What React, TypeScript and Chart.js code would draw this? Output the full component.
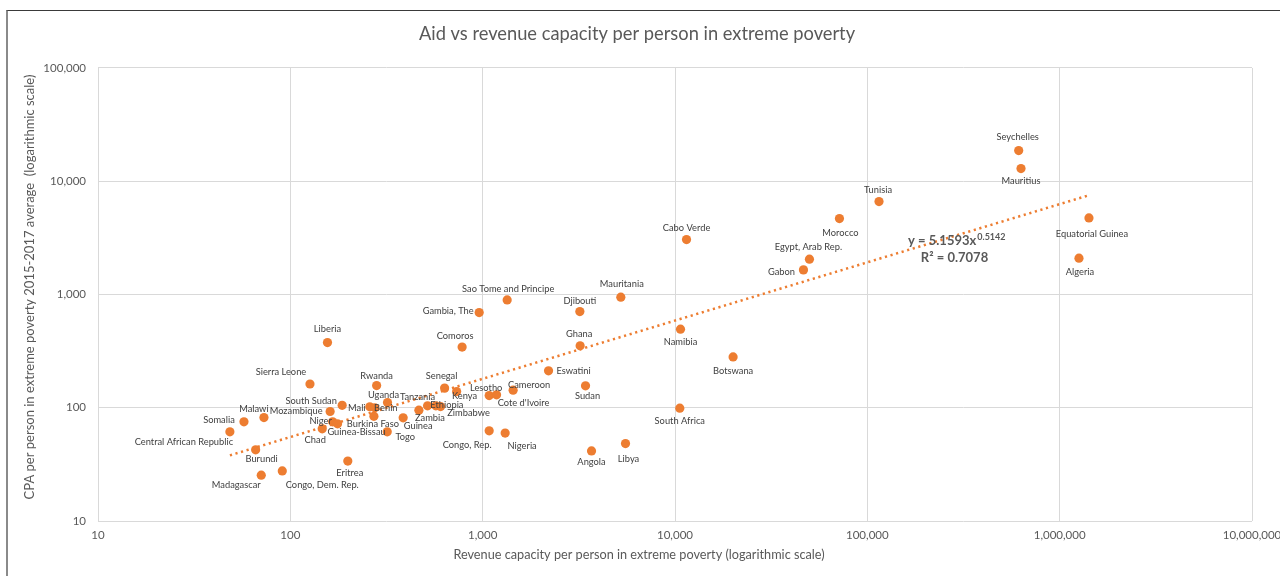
import React, { useEffect, useRef } from "react";
import { Chart, registerables } from "chart.js";

Chart.register(...registerables);

const FONT = "Lato, 'Open Sans', sans-serif";

const chartTitle = "Aid vs revenue capacity per person in extreme poverty";
const xAxisTitle = "Revenue capacity per person in extreme poverty (logarithmic scale)";
const yAxisTitle = "CPA per person in extreme poverty 2015-2017 average  (logarithmic scale)";

const countries = [
  "Seychelles", "Mauritius", "Tunisia", "Morocco", "Equatorial Guinea", "Algeria",
  "Cabo Verde", "Egypt, Arab Rep.", "Gabon", "Mauritania", "Sao Tome and Principe", "Djibouti",
  "Gambia, The", "Namibia", "Comoros", "Ghana", "Liberia", "Botswana",
  "Eswatini", "Sierra Leone", "Rwanda", "Senegal", "Sudan", "Cameroon",
  "Lesotho", "Kenya", "Cote d'Ivoire", "Uganda", "Tanzania", "South Sudan",
  "Ethiopia", "Mali", "Benin", "Mozambique", "Zimbabwe", "Zambia",
  "Niger", "Burkina Faso", "Guinea", "Guinea-Bissau", "Chad", "Togo",
  "Congo, Rep.", "Nigeria", "South Africa", "Angola", "Libya", "Eritrea",
  "Somalia", "Malawi", "Central African Republic", "Burundi", "Madagascar", "Congo, Dem. Rep.",
];

const revenueCapacity = [
  612400, 629400, 115000, 71610, 1420000, 1260000,
  11480, 50000, 46550, 5228, 1341, 3201,
  959, 10680, 782, 3212, 156, 20050,
  2200, 126.5, 281, 634, 3426, 1440,
  1081, 732, 1181, 320, 517, 186,
  571, 259, 275, 161, 604, 466,
  166, 272, 386, 176, 146.5, 319,
  1081, 1309, 10590, 3681, 5529, 199,
  57.4, 72.9, 48.5, 66, 70.6, 90.8,
];

const cpaPerPerson = [
  18630, 12920, 6607, 4676, 4744, 2091,
  3051, 2048, 1649, 947, 896, 707,
  692, 494, 343, 352, 376, 281,
  212, 162, 157, 149, 156, 143,
  128, 139, 130, 111, 104, 105,
  104, 102, 99.8, 92.6, 102.5, 95.2,
  75.1, 84, 81.4, 72.1, 65.1, 61.3,
  62.5, 59.7, 99.2, 41.6, 48.3, 33.8,
  75.1, 81.9, 61.3, 42.5, 25.4, 27.7,
];

// label placement relative to each point (pixels)
const labelOffsets: [number, number][] = [
  [-1, -14], [0, 12], [-1, -12], [1, 14], [3, 16], [1, 14],
  [0, -12], [-1, -12], [-22, 2], [1, -13], [1, -11], [0, -11],
  [-31, -2], [0, 13], [-7, -11], [-1, -12], [0, -14], [0, 14],
  [25, 0], [-29, -12], [0, -10], [-3, -12], [2, 10], [16, -5],
  [-3, -8], [8, 4], [27, 8], [-4, -8], [-10, -9], [-31, -4],
  [11, -1], [-13, 1], [11, 0], [-34, -1], [28, 6], [11, 8],
  [-12, -1], [-1, 8], [15, 8], [19, 8], [-7, 11], [18, 5],
  [-22, 14], [17, 13], [0, 13], [0, 11], [3, 15], [2, 12],
  [-25, -2], [-10, -9], [-46, 10], [6, 9], [-25, 10], [40, 14],
];

const trendX = [48.5, 1416000];
const trendY = [38, 7506];
const trendEquation = "y = 5.1593x";
const trendExponent = "0.5142";
const trendR2 = "R² = 0.7078";

const xTickValues = [10, 100, 1000, 10000, 100000, 1000000, 10000000];
const yTickValues = [10, 100, 1000, 10000, 100000];

export default function App() {
  const canvasRef = useRef<HTMLCanvasElement>(null);

  useEffect(() => {
    const canvas = canvasRef.current;
    if (!canvas) return;

    const overlayPlugin = {
      id: "overlayText",
      afterDatasetsDraw(chart: any) {
        const c = chart.ctx;
        const meta = chart.getDatasetMeta(1);
        c.save();
        c.font = `9.3px ${FONT}`;
        c.fillStyle = "#404040";
        c.textAlign = "center";
        c.textBaseline = "middle";
        meta.data.forEach((el: any, i: number) => {
          const [dx, dy] = labelOffsets[i];
          c.fillText(countries[i], el.x + dx, el.y + dy);
        });

        // trendline equation
        c.fillStyle = "#595959";
        c.font = `bold 13px ${FONT}`;
        c.textAlign = "left";
        c.fillText(trendEquation, 908, 241);
        const w = c.measureText(trendEquation).width;
        c.font = `bold 9px ${FONT}`;
        c.fillText(trendExponent, 908 + w + 1, 237);
        c.font = `bold 13px ${FONT}`;
        c.textAlign = "center";
        c.fillText(trendR2, 954.5, 258);

        // axis titles
        c.font = `12.7px ${FONT}`;
        c.fillStyle = "#595959";
        c.textAlign = "center";
        c.fillText(xAxisTitle, 639, 555);
        c.translate(30, 287);
        c.rotate(-Math.PI / 2);
        c.font = `13px ${FONT}`;
        c.fillText(yAxisTitle, 0, 0);
        c.restore();
      },
    };

    const chart = new Chart(canvas, {
      type: "scatter",
      data: {
        datasets: [
          {
            label: "Trend",
            type: "line",
            data: trendX.map((x, i) => ({ x, y: trendY[i] })),
            borderColor: "#ED7D31",
            borderWidth: 2.5,
            borderDash: [2.2, 3.6],
            pointRadius: 0,
            fill: false,
            tension: 0,
          },
          {
            label: "Countries",
            data: countries.map((_, i) => ({ x: revenueCapacity[i], y: cpaPerPerson[i] })),
            backgroundColor: "#ED7D31",
            borderColor: "#ED7D31",
            borderWidth: 0,
            pointRadius: 4.6,
          },
        ],
      },
      options: {
        animation: false,
        responsive: false,
        events: [],
        layout: { autoPadding: false, padding: { left: 22, right: 28, top: 0, bottom: 0 } },
        plugins: {
          legend: { display: false },
          tooltip: { enabled: false },
          title: {
            display: true,
            text: chartTitle,
            color: "#595959",
            font: { family: FONT, size: 18.3, weight: "normal" },
            padding: { top: 23, bottom: 23 },
          },
        },
        scales: {
          x: {
            type: "logarithmic",
            min: 10,
            max: 10000000,
            afterBuildTicks: (s: any) => {
              s.ticks = xTickValues.map((v) => ({ value: v }));
            },
            afterFit: (s: any) => {
              s.height = 55;
              s.paddingLeft = 0;
              s.paddingRight = 0;
            },
            ticks: {
              callback: (v: any) => Number(v).toLocaleString("en-US"),
              color: "#595959",
              font: { family: FONT, size: 11.5 },
              padding: 7,
              maxRotation: 0,
              autoSkip: false,
            },
            grid: { color: "#d9d9d9", lineWidth: 1, drawTicks: false },
            border: { display: false },
          },
          y: {
            type: "logarithmic",
            min: 10,
            max: 100000,
            afterBuildTicks: (s: any) => {
              s.ticks = yTickValues.map((v) => ({ value: v }));
            },
            afterFit: (s: any) => {
              s.width = 76;
              s.paddingTop = 0;
              s.paddingBottom = 0;
            },
            ticks: {
              callback: (v: any) => Number(v).toLocaleString("en-US"),
              color: "#595959",
              font: { family: FONT, size: 11.5 },
              padding: 12,
              autoSkip: false,
            },
            grid: { color: "#d9d9d9", lineWidth: 1, drawTicks: false },
            border: { display: false },
          },
        },
      },
      plugins: [overlayPlugin],
    });

    return () => chart.destroy();
  }, []);

  return (
    <div style={{ position: "fixed", left: 0, top: 0, width: 1280, height: 576, background: "#fff", overflow: "hidden" }}>
      <canvas ref={canvasRef} width={1280} height={576} style={{ position: "absolute", left: 0, top: 0 }} />
      <div
        style={{
          position: "absolute",
          left: 6,
          top: 10,
          width: 1400,
          height: 700,
          borderTop: "1px solid #3a3a3a",
          borderLeft: "2px solid #8a8a8a",
          pointerEvents: "none",
        }}
      />
    </div>
  );
}
